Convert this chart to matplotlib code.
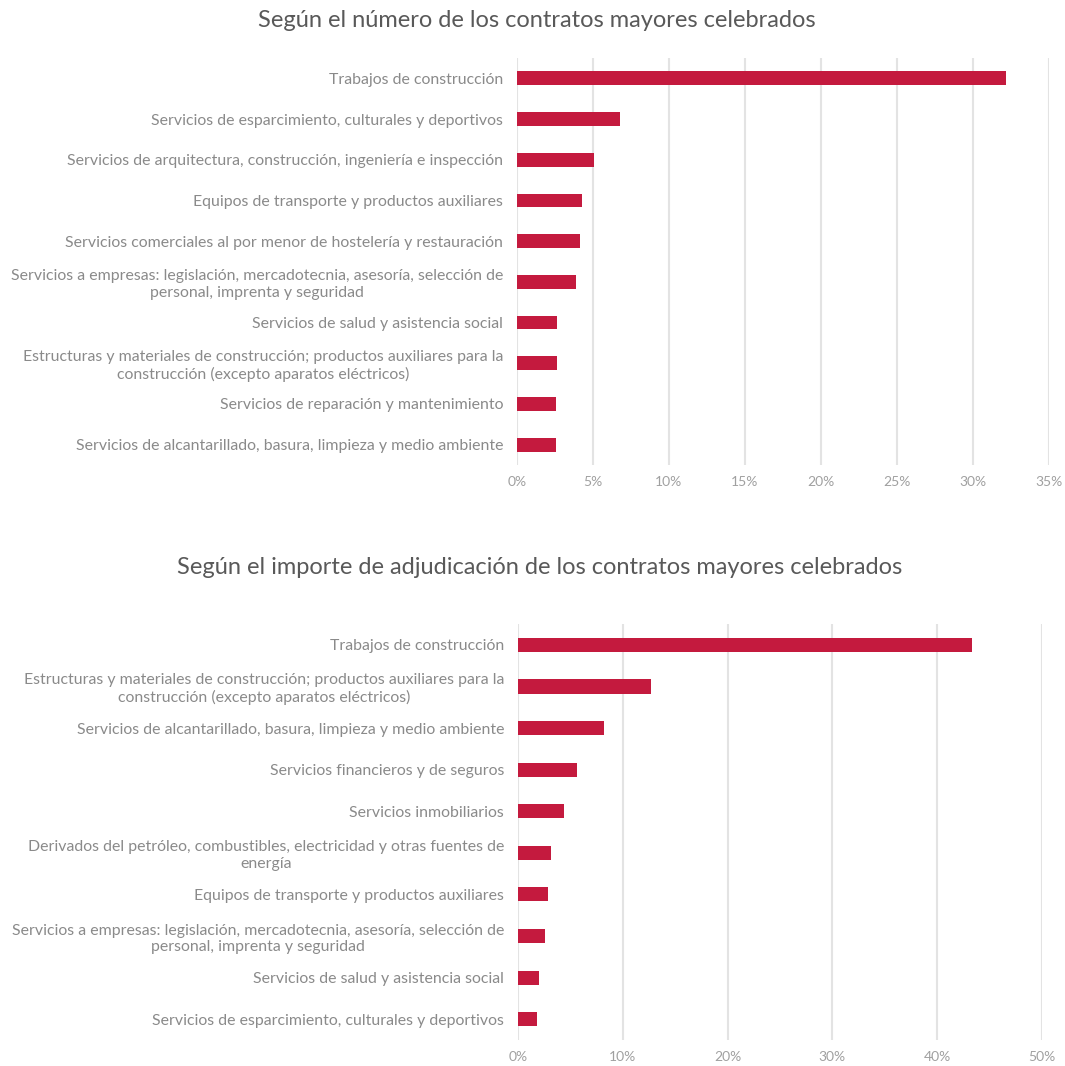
import matplotlib.pyplot as plt
import matplotlib.ticker as mtick

# datos (porcentajes)
cat_num = ['Trabajos de construcción',
           'Servicios de esparcimiento, culturales y deportivos',
           'Servicios de arquitectura, construcción, ingeniería e inspección',
           'Equipos de transporte y productos auxiliares',
           'Servicios comerciales al por menor de hostelería y restauración',
           'Servicios a empresas: legislación, mercadotecnia, asesoría, selección de\npersonal, imprenta y seguridad',
           'Servicios de salud y asistencia social',
           'Estructuras y materiales de construcción; productos auxiliares para la\nconstrucción (excepto aparatos eléctricos)',
           'Servicios de reparación y mantenimiento',
           'Servicios de alcantarillado, basura, limpieza y medio ambiente']
val_num = [32.2, 6.8, 5.1, 4.3, 4.15, 3.9, 2.65, 2.65, 2.6, 2.55]

cat_imp = ['Trabajos de construcción',
           'Estructuras y materiales de construcción; productos auxiliares para la\nconstrucción (excepto aparatos eléctricos)',
           'Servicios de alcantarillado, basura, limpieza y medio ambiente',
           'Servicios financieros y de seguros',
           'Servicios inmobiliarios',
           'Derivados del petróleo, combustibles, electricidad y otras fuentes de\nenergía',
           'Equipos de transporte y productos auxiliares',
           'Servicios a empresas: legislación, mercadotecnia, asesoría, selección de\npersonal, imprenta y seguridad',
           'Servicios de salud y asistencia social',
           'Servicios de esparcimiento, culturales y deportivos']
val_imp = [43.35, 12.7, 8.2, 5.6, 4.4, 3.1, 2.9, 2.6, 2.0, 1.8]

title_num = 'Según el número de los contratos mayores celebrados'
title_imp = 'Según el importe de adjudicación de los contratos mayores celebrados'

plt.rcParams['font.family'] = ['Lato', 'DejaVu Sans']

color_bar = '#C41A3E'
grid_c = '#E3E3E3'


def barras(ax, cats, vals, xmax, step):
    y = range(len(cats))
    ax.barh(y, vals, height=0.34, color=color_bar, zorder=3)
    ax.set_ylim(len(cats) - 0.5, -0.5)
    ax.set_xlim(0, xmax)
    ax.set_xticks(range(0, xmax + 1, step))
    ax.xaxis.set_major_formatter(mtick.PercentFormatter(decimals=0))
    ax.set_yticks(list(y))
    ax.set_yticklabels(cats, multialignment='center')
    ax.grid(axis='x', color=grid_c, linewidth=1.5, zorder=0)
    for s in ['top', 'right', 'bottom', 'left']:
        ax.spines[s].set_visible(False)
    ax.tick_params(axis='y', length=0, pad=10, labelsize=11.4, labelcolor='#8A8A8A')
    ax.tick_params(axis='x', length=0, pad=8, labelsize=10, labelcolor='#A0A0A0')


fig = plt.figure(figsize=(10.65, 10.66), dpi=100)

ax1 = fig.add_axes([0.4854, 0.5638, 0.4996, 0.3818])
barras(ax1, cat_num, val_num, 35, 5)
fig.text(0.504, 0.981, title_num, ha='center', va='center', fontsize=17, color='#595959')

ax2 = fig.add_axes([0.4864, 0.0244, 0.4920, 0.3902])
barras(ax2, cat_imp, val_imp, 50, 10)
fig.text(0.507, 0.468, title_imp, ha='center', va='center', fontsize=17, color='#595959')

plt.savefig('out.png')
